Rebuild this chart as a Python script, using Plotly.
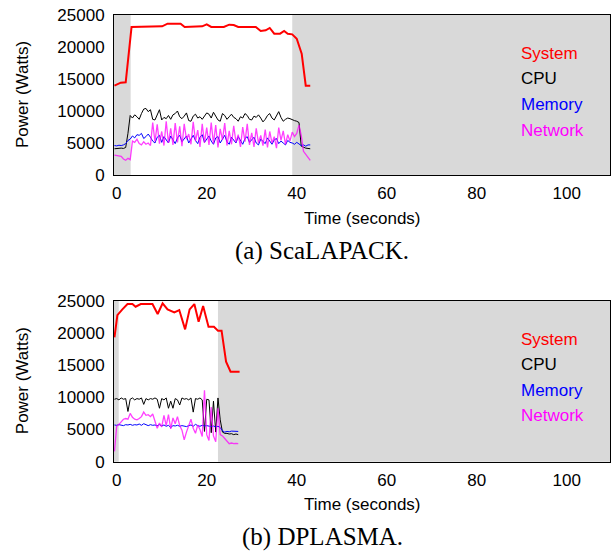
import plotly.graph_objects as go

W, H = 616, 551

# ---------------- data: (a) ScaLAPACK ----------------
a_sys_t = [-0.5, 0.9, 2.0, 3.3, 10.1, 11.3, 14.2, 15.1, 19.0, 20.0, 21.0, 23.8, 25.0, 26.0, 27.0,
           30.9, 32.0, 33.1, 34.0, 35.0, 36.3, 37.2, 38.0, 39.0, 40.0, 41.1, 42.0, 43.0]
a_sys = [13960, 14430, 14480, 23130, 23230, 23650, 23650, 23130, 23230, 23540, 23130, 23130, 23490, 23440, 23130,
         23130, 22500, 22600, 22970, 22080, 22080, 22500, 22080, 21980, 21300, 18960, 13960, 13960]

a_t0 = -0.5  # sample grid start (s), 0.5 s sampling
a_cpu = [4100, 4150, 4100, 4200, 4150, 4300, 6500, 9300, 8900, 9400, 9100, 8700, 9600, 10300, 10400, 9900,
         10200, 8700, 8600, 9500, 10200, 8600, 9000, 8800, 9300, 8700, 9400, 9600, 10000, 9100, 8800, 9200,
         9700, 8500, 8400, 9200, 9500, 8900, 9100, 8700, 9300, 9700, 9500, 8900, 9800, 9200, 8600, 8400,
         9600, 9300, 8700, 9100, 9500, 9000, 8800, 8400, 9100, 8900, 9600, 9300, 8700, 8600, 9200, 9000,
         9400, 8900, 8300, 8700, 9300, 9600, 8900, 8600, 9200, 9900, 9000, 8400, 8700, 8900, 8800, 8600,
         8500, 8400, 8200, 4500, 4300, 4200, 4150, 4100]
a_mem = [4600, 4550, 4650, 4600, 4700, 4900, 5400, 5600, 6100, 5800, 6300, 6200, 6500, 5700, 6000, 6400,
         5900, 5300, 5000, 5900, 6200, 5100, 6000, 5400, 5000, 6100, 5600, 4900, 5800, 6200, 5200, 5700,
         6100, 5000, 5500, 6200, 5400, 4900, 5900, 6300, 5100, 5600, 6100, 5300, 4800, 5800, 6000, 5000,
         5600, 6200, 5200, 4800, 5900, 5500, 5000, 6000, 5400, 4800, 5700, 6000, 5100, 5500, 5900, 5000,
         4700, 5600, 5300, 4900, 5800, 5200, 4800, 5500, 5700, 4900, 5300, 5000, 4700, 5400, 5100, 5000,
         4800, 5100, 4900, 4600, 4700, 4500, 4700, 4700]
a_net = [3100, 3050, 3000, 2900, 2500, 2300, 2600, 2400, 5300, 5100, 5600, 4900, 4700, 5200, 4800, 5000,
         4600, 8200, 5200, 7900, 4900, 6800, 4600, 8400, 5000, 7300, 4700, 8100, 5100, 7600, 4500, 8000,
         5600, 6400, 4800, 8300, 5300, 7000, 4400, 8000, 5000, 7400, 4700, 8200, 4900, 7800, 4300, 7200,
         5500, 8100, 4600, 6900, 4800, 7700, 5100, 6300, 4400, 7500, 5200, 8000, 4700, 6600, 4400, 7300,
         5000, 6200, 4600, 7100, 4300, 6800, 5000, 6000, 4200, 7400, 5400, 6900, 4800, 6300, 5300, 6700,
         6000, 6500, 7800, 6200, 3700, 3200, 2700, 2300]

# ---------------- data: (b) DPLASMA ----------------
b_sys_t = [-0.5, 0.15, 1.26, 2.4, 3.5, 4.2, 5.35, 7.95, 9.1, 10.2, 11.3, 12.8, 13.9, 15.2, 16.2, 17.25,
           18.2, 19.2, 20.4, 21.6, 22.5, 23.3, 24.3, 25.3, 27.3]
b_sys = [19300, 22770, 23650, 24480, 24480, 24070, 24480, 24480, 22930, 24590, 23650, 23190, 23550, 20550,
         23650, 24480, 21740, 24170, 20960, 20960, 20340, 20340, 15530, 13980, 13980]

b_t0 = -0.5
b_cpu = [9700, 9800, 9600, 9900, 9700, 9800, 7800, 9700, 9900, 9600, 9800, 9700, 9900, 8900, 9800, 9600,
         9800, 9700, 9900, 9700, 8300, 9800, 9600, 9900, 8300, 9400, 8300, 9800, 9600, 8800, 9900, 9700,
         9800, 9600, 9900, 7700, 9800, 9700, 9900, 9600, 4700, 9700, 9600, 4500, 9400, 4600, 9900, 6500,
         4600, 4400, 4400, 4300, 4350, 4200, 4300, 4200]
b_mem = [5700, 5650, 5750, 5700, 5600, 5750, 5700, 5800, 5650, 5750, 5700, 5850, 5650, 5900, 5700, 5600,
         5750, 5650, 5700, 5600, 5750, 5550, 5700, 5500, 5650, 5300, 5600, 5550, 5650, 5500, 5600, 5550,
         5450, 5600, 5700, 5500, 5800, 5600, 5500, 5650, 5550, 5600, 5500, 5450, 5550, 5400, 5500, 5300,
         4800, 4600, 4700, 4650, 4750, 4700, 4650, 4700]
b_net = [1600, 5500, 5800, 6200, 6600, 6700, 6600, 7500, 6900, 6600, 6500, 6700, 7000, 7700, 7200, 7300,
         7000, 7400, 6200, 5200, 6000, 5400, 7200, 5600, 7300, 5100, 6800, 5900, 7000, 5600, 4900, 3400,
         4600, 5500, 6600, 5200, 4400, 5700, 5000, 3900, 11100, 4200, 3300, 8500, 4000, 3100, 8300, 4200,
         4000, 3600, 3100, 2800, 2900, 2800, 2850, 2800]

# idle (shaded) intervals, seconds
a_busy = [3.1, 39.0]
b_busy = [0.45, 22.5]

x_ticks = [0, 20, 40, 60, 80, 100]
x_ticktext = ["0", "20", "40", "60", "80", "100"]
y_ticks = [0, 5000, 10000, 15000, 20000, 25000]
y_ticktext = ["0", "5000", "10000", "15000", "20000", "25000"]
series_names = ["System", "CPU", "Memory", "Network"]
captions = ["(a) ScaLAPACK.", "(b) DPLASMA."]

# ---------------- layout geometry (pixels) ----------------
PX_L, PX_R = 114, 610
panels = [(15, 175), (300.7, 461.7)]
XMIN, XMAX = -0.6, 109.6

def grid(t0, vals):
    return [t0 + 0.5 * i for i in range(len(vals))]

def fx(px):
    return px / W

def fy(py):
    return 1 - py / H

fig = go.Figure()
SANS = "Liberation Sans, Arial, sans-serif"
colors = {"System": "#ff0000", "CPU": "#000000", "Memory": "#0000ff", "Network": "rgba(255,0,255,0.75)"}

datasets = [
    (a_sys_t, a_sys, a_t0, a_cpu, a_mem, a_net, a_busy),
    (b_sys_t, b_sys, b_t0, b_cpu, b_mem, b_net, b_busy),
]

shapes = []
annotations = []
for k, (st, sv, t0, cpu, mem, net, busy) in enumerate(datasets):
    xa = "x" if k == 0 else "x2"
    ya = "y" if k == 0 else "y2"
    fig.add_trace(go.Scatter(x=grid(t0, cpu), y=cpu, mode="lines", line=dict(color=colors["CPU"], width=1),
                             xaxis=xa, yaxis=ya, showlegend=False))
    fig.add_trace(go.Scatter(x=grid(t0, mem), y=mem, mode="lines", line=dict(color=colors["Memory"], width=1),
                             xaxis=xa, yaxis=ya, showlegend=False))
    fig.add_trace(go.Scatter(x=grid(t0, net), y=net, mode="lines", line=dict(color=colors["Network"], width=1.3),
                             xaxis=xa, yaxis=ya, showlegend=False))
    fig.add_trace(go.Scatter(x=st, y=sv, mode="lines", line=dict(color=colors["System"], width=2),
                             xaxis=xa, yaxis=ya, showlegend=False))
    # shaded idle regions
    for x0, x1 in [(XMIN, busy[0]), (busy[1], XMAX)]:
        shapes.append(dict(type="rect", xref=xa, yref=ya + " domain", x0=x0, x1=x1, y0=0, y1=1,
                           fillcolor="#d9d9d9", line=dict(width=0), layer="below"))
    top, bot = panels[k]
    # axis titles
    annotations.append(dict(text="Power (Watts)", x=fx(22), y=fy((top + bot) / 2), xref="paper", yref="paper",
                            textangle=-90, showarrow=False, font=dict(family=SANS, size=17, color="black"),
                            xanchor="center", yanchor="middle"))
    annotations.append(dict(text="Time (seconds)", x=fx((PX_L + PX_R) / 2), y=fy(bot + 43), xref="paper", yref="paper",
                            showarrow=False, font=dict(family=SANS, size=17, color="black"),
                            xanchor="center", yanchor="middle"))
    # legend labels
    for i, name in enumerate(series_names):
        annotations.append(dict(text=name, x=fx(519), y=fy(top + 38.5 + 25.5 * i), xref="paper", yref="paper",
                                showarrow=False, font=dict(family=SANS, size=17,
                                                           color=colors[name] if name != "Network" else "#ff00ff"),
                                xanchor="left", yanchor="middle"))
    # caption
    annotations.append(dict(text=captions[k], x=fx(322), y=fy(bot + 75.5), xref="paper", yref="paper",
                            showarrow=False, font=dict(family="Liberation Serif, serif", size=25, color="black"),
                            xanchor="center", yanchor="middle"))

axis_common = dict(showline=True, linecolor="black", linewidth=1, mirror=True, showgrid=False, zeroline=False,
                   ticks="", automargin=False, tickfont=dict(family=SANS, size=17, color="black"))

layout = dict(
    width=W, height=H, margin=dict(l=0, r=0, t=0, b=0, autoexpand=False),
    paper_bgcolor="white", plot_bgcolor="white",
    shapes=shapes, annotations=annotations,
)
for k in range(2):
    top, bot = panels[k]
    sx = "" if k == 0 else "2"
    layout["xaxis" + sx] = dict(axis_common, domain=[fx(PX_L), fx(PX_R)], range=[XMIN, XMAX],
                                tickvals=x_ticks, ticktext=x_ticktext, anchor="y" + sx, ticklabelstandoff=3)
    layout["yaxis" + sx] = dict(axis_common, domain=[fy(bot), fy(top)], range=[0, 25000],
                                tickvals=y_ticks, ticktext=y_ticktext, anchor="x" + sx, ticklabelstandoff=5)

fig.update_layout(**layout)
fig.write_html("out.html", config={"displayModeBar": False},
               post_script="document.body.style.margin='0';document.body.style.overflow='hidden';")
